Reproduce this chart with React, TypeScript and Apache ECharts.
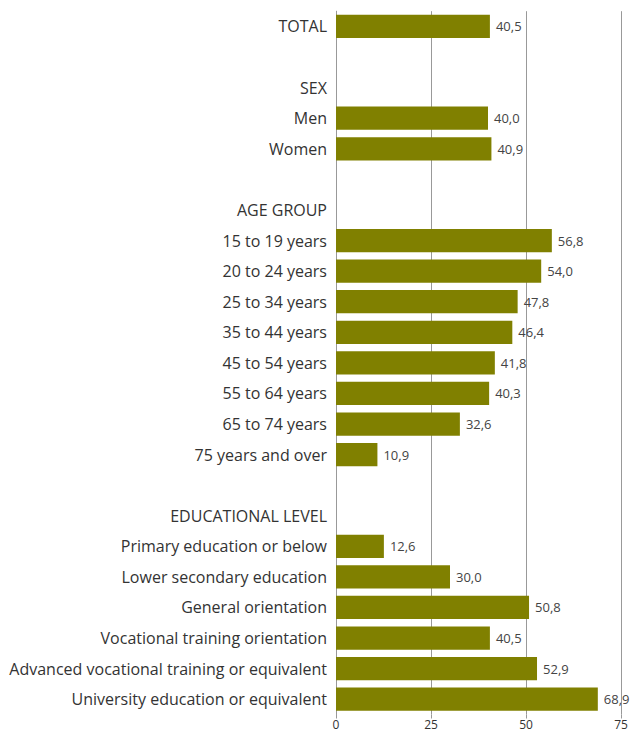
import React, { useEffect, useRef } from "react";
import * as echarts from "echarts";

const categories = [
  "TOTAL", "", "SEX", "Men", "Women", " ", "AGE GROUP",
  "15 to 19 years", "20 to 24 years", "25 to 34 years", "35 to 44 years",
  "45 to 54 years", "55 to 64 years", "65 to 74 years", "75 years and over",
  "  ", "EDUCATIONAL LEVEL",
  "Primary education or below", "Lower secondary education", "General orientation",
  "Vocational training orientation", "Advanced vocational training or equivalent",
  "University education or equivalent",
];
const values: (number | null)[] = [
  40.5, null, null, 40.0, 40.9, null, null,
  56.8, 54.0, 47.8, 46.4, 41.8, 40.3, 32.6, 10.9,
  null, null,
  12.6, 30.0, 50.8, 40.5, 52.9, 68.9,
];
const xTicks = [0, 25, 50, 75];

export default function App() {
  const ref = useRef<HTMLDivElement>(null);
  useEffect(() => {
    if (!ref.current) return;
    const chart = echarts.init(ref.current, null, { renderer: "svg" });
    chart.setOption({
      animation: false,
      grid: { left: 336, right: 11, top: 11.2, bottom: 18.5, containLabel: false },
      xAxis: {
        type: "value",
        min: xTicks[0],
        max: xTicks[xTicks.length - 1],
        interval: 25,
        axisLine: { show: false },
        axisTick: { show: true, length: 4, lineStyle: { color: "#999" } },
        axisLabel: { color: "#333", fontSize: 12, lineHeight: 13, fontFamily: "Open Sans", margin: 3 },
        splitLine: { show: true, lineStyle: { color: "#999", width: 1 } },
      },
      yAxis: {
        type: "category",
        inverse: true,
        data: categories,
        axisLine: { show: true, lineStyle: { color: "#999" } },
        axisTick: { show: false },
        axisLabel: { color: "#333", fontSize: 16, fontFamily: "Open Sans", margin: 9, interval: 0 },
      },
      series: [
        {
          type: "bar",
          data: values,
          barCategoryGap: "24%",
          itemStyle: { color: "#808000" },
          label: {
            show: true,
            position: "right",
            distance: 6,
            color: "#444",
            fontSize: 13,
            fontFamily: "Open Sans",
            formatter: (p: any) => (p.value == null ? "" : Number(p.value).toFixed(1).replace(".", ",")),
          },
        },
      ],
    });
    return () => chart.dispose();
  }, []);
  return <div ref={ref} style={{ width: 632, height: 733, position: "absolute", left: 0, top: 0 }} />;
}
